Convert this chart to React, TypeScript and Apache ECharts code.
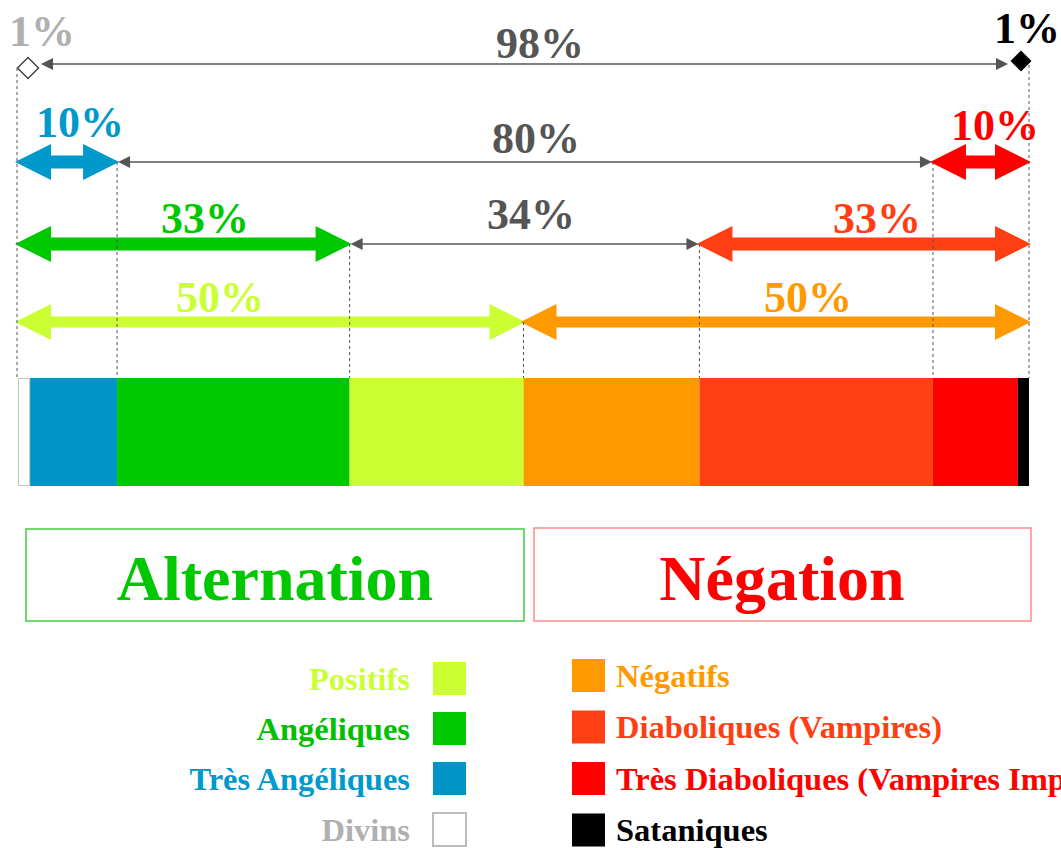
import React, { useEffect, useRef } from 'react';
import * as echarts from 'echarts';

const categories = [
  'Divins',
  'Très Angéliques',
  'Angéliques',
  'Positifs',
  'Négatifs',
  'Diaboliques (Vampires)',
  'Très Diaboliques (Vampires Impériaux)',
  'Sataniques',
];
const shares = [1.2, 8.6, 23, 17.2, 17.4, 23.1, 8.4, 1.1];
const barColors = ['#ffffff', '#0093c8', '#00c800', '#ccff33', '#ff9900', '#ff4015', '#ff0000', '#000000'];
const textColors = ['#b0b0b0', '#0099cc', '#00c000', '#ccff33', '#ff9900', '#ff3e14', '#ff0000', '#000000'];

const leftLegend = ['Positifs', 'Angéliques', 'Très Angéliques', 'Divins'];
const rightLegend = ['Négatifs', 'Diaboliques (Vampires)', 'Très Diaboliques (Vampires Impériaux)', 'Sataniques'];

// spans between cumulative boundaries: [from, to, label, color, thick]
const row2 = [
  [0, 2, '10%', '#0099cc', true],
  [2, 6, '80%', '#555555', false],
  [6, 8, '10%', '#ff0000', true],
];
const row3 = [
  [0, 3, '33%', '#00c800', true],
  [3, 5, '34%', '#555555', false],
  [5, 8, '33%', '#ff3e14', true],
];
const row4 = [
  [0, 4, '50%', '#ccff33', true],
  [4, 8, '50%', '#ff9900', true],
];
const row1Labels = ['1%', '98%', '1%'];
const row1Colors = ['#b0b0b0', '#555555', '#000000'];
const groupTitles = ['Alternation', 'Négation'];

const FONT = "'Liberation Serif', 'Times New Roman', serif";

export default function App() {
  const ref = useRef<HTMLDivElement>(null);
  useEffect(() => {
    const chart = echarts.init(ref.current!, null, { renderer: 'svg' });
    const series = categories.map((name, i) => ({
      name,
      type: 'bar',
      stack: 'total',
      barWidth: 108,
      data: [shares[i]],
      silent: true,
      emphasis: { disabled: true },
      itemStyle: i === 0 ? { color: '#ffffff', borderColor: '#c4c4c4', borderWidth: 1 } : { color: barColors[i] },
    }));
    const legendItem = (name: string) => {
      const i = categories.indexOf(name);
      const it: any = { name, textStyle: { color: textColors[i] } };
      if (i === 0) it.itemStyle = { color: '#ffffff', borderColor: '#bbbbbb', borderWidth: 2 };
      return it;
    };
    const legendBase = {
      orient: 'vertical',
      itemWidth: 33,
      itemHeight: 33,
      padding: 0,
      height: 200,
      selectedMode: false,
      icon: 'rect',
    };
    chart.setOption({
      animation: false,
      grid: { left: 18, right: 32, top: 378, height: 108 },
      xAxis: { type: 'value', min: 0, max: 100, show: false },
      yAxis: { type: 'category', data: ['Répartition'], show: false },
      legend: [
        {
          ...legendBase,
          align: 'right',
          right: 594,
          top: 662,
          itemGap: 17,
          data: leftLegend.map(legendItem),
          textStyle: { fontFamily: FONT, fontWeight: 'bold', fontSize: 32.5, padding: [0, 18, 0, 0] },
        },
        {
          ...legendBase,
          align: 'left',
          left: 572,
          top: 659,
          itemGap: 18.5,
          data: rightLegend.map(legendItem),
          textStyle: { fontFamily: FONT, fontWeight: 'bold', fontSize: 32.5, padding: [0, 0, 0, 6] },
        },
      ],
      series,
    });

    const bounds = [0];
    shares.forEach((v) => bounds.push(bounds[bounds.length - 1] + v));
    const px = (v: number) => (chart.convertToPixel({ gridIndex: 0 }, [v, 0]) as number[])[0];
    const barTop = 378;
    const g: any[] = [];
    const dashes: any[] = [];

    const thick = (x1: number, x2: number, y: number, color: string, sw = 6) => {
      const L = 36, hw = 18;
      g.push({
        type: 'polygon',
        shape: {
          points: [
            [x1, y], [x1 + L, y - hw], [x1 + L, y - sw], [x2 - L, y - sw], [x2 - L, y - hw],
            [x2, y], [x2 - L, y + hw], [x2 - L, y + sw], [x1 + L, y + sw], [x1 + L, y + hw],
          ],
        },
        style: { fill: color },
      });
    };
    const thin = (x1: number, x2: number, y: number) => {
      const L = 12, hw = 6;
      g.push({ type: 'line', shape: { x1: x1 + L - 1, y1: y, x2: x2 - L + 1, y2: y }, style: { stroke: '#808080', lineWidth: 2 } });
      g.push({ type: 'polygon', shape: { points: [[x1, y], [x1 + L, y - hw], [x1 + L, y + hw]] }, style: { fill: '#555555' } });
      g.push({ type: 'polygon', shape: { points: [[x2, y], [x2 - L, y - hw], [x2 - L, y + hw]] }, style: { fill: '#555555' } });
    };
    const label = (text: string, x: number, y: number, color: string, size = 44) => {
      g.push({
        type: 'text',
        style: { text, x, y, fill: color, fontFamily: FONT, fontWeight: 'bold', fontSize: size, align: 'center', verticalAlign: 'middle' },
      });
    };
    const dash = (x: number, y: number) => {
      dashes.push({ type: 'line', shape: { x1: x, y1: y, x2: x, y2: barTop }, style: { stroke: '#555555', lineWidth: 1, lineDash: [3, 3] } });
    };

    // Row 1
    const x0 = px(bounds[0]);
    const x8 = px(bounds[8]);
    const ld = { cx: x0 + 10, cy: 68 };
    const rd = { cx: x8 - 8, cy: 61 };
    thin(ld.cx + 13, rd.cx - 13, 64);
    g.push({
      type: 'polygon',
      shape: { points: [[ld.cx - 10.5, ld.cy], [ld.cx, ld.cy - 10.5], [ld.cx + 10.5, ld.cy], [ld.cx, ld.cy + 10.5]] },
      style: { fill: '#ffffff', stroke: '#444444', lineWidth: 1.5 },
    });
    g.push({
      type: 'polygon',
      shape: { points: [[rd.cx - 10.5, rd.cy], [rd.cx, rd.cy - 10.5], [rd.cx + 10.5, rd.cy], [rd.cx, rd.cy + 10.5]] },
      style: { fill: '#000000' },
    });
    label(row1Labels[0], 42, 31, row1Colors[0]);
    label(row1Labels[1], 540, 43, row1Colors[1]);
    label(row1Labels[2], 1027, 28, row1Colors[2]);
    dash(x0 - 1, ld.cy);
    dash(x8, rd.cy + 4);

    const rows: [any[], number, number[][]][] = [
      [row2, 162, [[80, 122], [536, 138], [995, 125]]],
      [row3, 244, [[205, 218], [531, 214], [877, 218]]],
      [row4, 322, [[220, 297], [808, 297]]],
    ];
    rows.forEach(([spans, y, lp]) => {
      spans.forEach((s, k) => {
        const [a, b, text, color, isThick] = s as [number, number, string, string, boolean];
        const xa = px(bounds[a]);
        const xb = px(bounds[b]);
        if (isThick) thick(xa - 3, xb + 2, y, color, y === 322 ? 5.5 : 6.5);
        else thin(xa + 1, xb - 1, y);
        label(text, lp[k][0], lp[k][1], color);
      });
    });
    dash(px(bounds[2]), 162);
    dash(px(bounds[6]), 162);
    dash(px(bounds[3]), 244);
    dash(px(bounds[5]), 244);
    dash(px(bounds[4]), 322);

    // group boxes
    g.push({ type: 'rect', shape: { x: 26, y: 529, width: 498, height: 92 }, style: { fill: 'none', stroke: '#44cc44', lineWidth: 1.5 } });
    g.push({ type: 'rect', shape: { x: 534, y: 528, width: 497, height: 93 }, style: { fill: 'none', stroke: '#ff8a8a', lineWidth: 1.5 } });
    label(groupTitles[0], 275, 578, '#00c800', 64);
    label(groupTitles[1], 782, 578, '#ff0000', 64);

    chart.setOption({ graphic: [...g, ...dashes] });
    return () => chart.dispose();
  }, []);
  return <div ref={ref} style={{ position: 'absolute', left: 0, top: 0, width: 1061, height: 848 }} />;
}
